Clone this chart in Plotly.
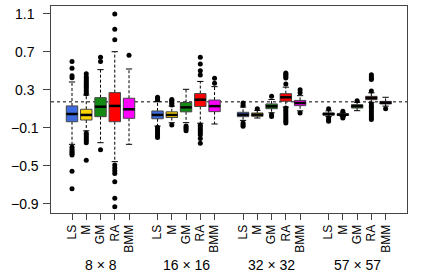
import plotly.graph_objects as go

# ---------------- data ----------------
methods = ["LS", "M", "GM", "RA", "BMM"]
groups = ["8 × 8", "16 × 16", "32 × 32", "57 × 57"]
colors = ["#3f6be0", "#ffd700", "#138a13", "#ff0000", "#ff00ff"]
ref_value = 0.175
y_ticks = [-0.9, -0.5, -0.1, 0.3, 0.7, 1.1]
y_ticktext = ["\u22120.9", "\u22120.5", "\u22120.1", "0.3", "0.7", "1.1"]

# per group: lists over methods LS, M, GM, RA, BMM
q1_8 = [-0.034, -0.016, 0.019, -0.034, 0.002]
med_8 = [0.047, 0.037, 0.124, 0.132, 0.097]
q3_8 = [0.132, 0.097, 0.219, 0.272, 0.213]
lo_8 = [-0.272, -0.13, -0.255, -0.454, -0.272]
hi_8 = [0.384, 0.247, 0.514, 0.703, 0.521]
out_8 = [
    [0.43, 0.45, 0.53, 0.60, -0.30, -0.32, -0.34, -0.355, -0.37, -0.385, -0.556, -0.74],
    [0.26, 0.28, 0.30, 0.32, 0.34, 0.36, 0.38, 0.40, 0.42, 0.44, 0.47,
     -0.156, -0.175, -0.195, -0.215, -0.235, -0.255, -0.44],
    [0.60, 0.645, -0.33],
    [0.83, 0.94, 1.10, -0.49, -0.52, -0.55, -0.58, -0.665, -0.84, -0.93],
    [0.665],
]

q1_16 = [-0.003, 0.01, 0.07, 0.126, 0.072]
med_16 = [0.037, 0.037, 0.117, 0.198, 0.13]
q3_16 = [0.079, 0.07, 0.168, 0.262, 0.194]
lo_16 = [-0.08, -0.045, -0.044, -0.05, -0.058]
hi_16 = [0.18, 0.13, 0.307, 0.39, 0.335]
out_16 = [
    [0.195, 0.21, 0.223, -0.095, -0.11, -0.13, -0.15, -0.17, -0.185, -0.2],
    [0.142, 0.16, 0.175, 0.19, 0.2, -0.068],
    [-0.079, -0.095, -0.11, -0.128],
    [0.458, 0.503, 0.574, 0.644, -0.07, -0.09, -0.11, -0.13, -0.15, -0.17, -0.21, -0.26],
    [0.37, 0.423],
]

q1_32 = [0.019, 0.023, 0.103, 0.181, 0.135]
med_32 = [0.04, 0.04, 0.128, 0.223, 0.163]
q3_32 = [0.065, 0.058, 0.153, 0.261, 0.19]
lo_32 = [-0.02, 0.005, 0.06, 0.12, 0.08]
hi_32 = [0.12, 0.085, 0.2, 0.33, 0.24]
out_32 = [
    [0.139, 0.163, -0.047, -0.065, -0.082],
    [0.103],
    [0.233, 0.04, 0.02],
    [0.363, 0.426, 0.44, 0.455, 0.468, 0.479,
     0.11, 0.09, 0.07, 0.05, 0.03, 0.01, -0.01, -0.03, -0.047],
    [0.27, 0.303, 0.058],
]

q1_57 = [0.035, 0.032, 0.11, 0.198, 0.153]
med_57 = [0.047, 0.04, 0.13, 0.216, 0.166]
q3_57 = [0.058, 0.05, 0.145, 0.233, 0.18]
lo_57 = [0.02, 0.02, 0.082, 0.17, 0.13]
hi_57 = [0.08, 0.06, 0.17, 0.27, 0.223]
out_57 = [
    [0.103, 0.005, -0.015, -0.03],
    [0.075, 0.005, 0.015],
    [0.187],
    [0.29, 0.41, 0.425, 0.44, 0.46,
     0.153, 0.13, 0.11, 0.09, 0.07, 0.05, 0.03, 0.01, -0.01],
    [0.103],
]

all_q1 = [q1_8, q1_16, q1_32, q1_57]
all_med = [med_8, med_16, med_32, med_57]
all_q3 = [q3_8, q3_16, q3_32, q3_57]
all_lo = [lo_8, lo_16, lo_32, lo_57]
all_hi = [hi_8, hi_16, hi_32, hi_57]
all_out = [out_8, out_16, out_32, out_57]

# ---------------- figure ----------------
W = 0.4      # half box width
C = 0.22     # half cap width
fig = go.Figure()

tickpos, ticktxt = [], []
wx, wy, cx, cy, ox, oy = [], [], [], [], [], []
for g in range(len(groups)):
    for m in range(len(methods)):
        x = 6 * g + m + 1
        tickpos.append(x)
        ticktxt.append(methods[m])
        q1, md, q3 = all_q1[g][m], all_med[g][m], all_q3[g][m]
        lo, hi = all_lo[g][m], all_hi[g][m]
        wx += [x, x, None, x, x, None]
        wy += [q3, hi, None, q1, lo, None]
        cx += [x - C, x + C, None, x - C, x + C, None]
        cy += [hi, hi, None, lo, lo, None]
        for v in all_out[g][m]:
            ox.append(x)
            oy.append(v)

# whiskers (dashed)
fig.add_trace(go.Scatter(x=wx, y=wy, mode="lines", line=dict(color="black", width=1, dash="3px,2px"),
                         hoverinfo="skip", showlegend=False))
fig.add_trace(go.Scatter(x=cx, y=cy, mode="lines", line=dict(color="black", width=1),
                         hoverinfo="skip", showlegend=False))

# boxes and medians
for g in range(len(groups)):
    for m in range(len(methods)):
        x = 6 * g + m + 1
        q1, md, q3 = all_q1[g][m], all_med[g][m], all_q3[g][m]
        fig.add_trace(go.Scatter(
            x=[x - W, x + W, x + W, x - W, x - W], y=[q1, q1, q3, q3, q1],
            mode="lines", fill="toself", fillcolor=colors[m],
            line=dict(color="#444444", width=1), hoverinfo="skip", showlegend=False))
        fig.add_trace(go.Scatter(
            x=[x - W, x + W], y=[md, md], mode="lines",
            line=dict(color="black", width=2.5), hoverinfo="skip", showlegend=False))

# outliers
fig.add_trace(go.Scatter(x=ox, y=oy, mode="markers", marker=dict(color="black", size=5),
                         hoverinfo="skip", showlegend=False))

fig.add_hline(y=ref_value, line=dict(color="black", width=1, dash="3px,3px"), layer="below")

# y tick labels (centered, as in the reference)
for v, t in zip(y_ticks, y_ticktext):
    fig.add_annotation(x=-0.073, xref="paper", y=v, yref="y", text=t, showarrow=False,
                       xanchor="center", yanchor="middle",
                       font=dict(size=14, color="black", family="Liberation Sans"))

# group labels
for g, lab in enumerate(groups):
    fig.add_annotation(x=6 * g + 3, xref="x", y=-0.251, yref="paper", text=lab, showarrow=False,
                       xanchor="center", yanchor="middle",
                       font=dict(size=14, color="black", family="Liberation Sans"))

fig.update_layout(
    width=422, height=273,
    margin=dict(l=51, r=15, t=6, b=60),
    paper_bgcolor="white", plot_bgcolor="white",
    font=dict(family="Liberation Sans", color="black"),
    xaxis=dict(range=[-0.474, 24.5], tickvals=tickpos, ticktext=ticktxt, tickangle=-90,
               ticks="outside", ticklen=6, tickcolor="#444", tickfont=dict(size=12),
               showline=True, linecolor="#444", linewidth=1, mirror=True,
               showgrid=False, zeroline=False, fixedrange=True),
    yaxis=dict(range=[-0.995, 1.184], tickvals=y_ticks, showticklabels=False,
               ticks="outside", ticklen=7, tickcolor="#444",
               showline=True, linecolor="#444", linewidth=1, mirror=True,
               showgrid=False, zeroline=False, fixedrange=True),
)

fig.write_html("out.html", config={"displayModeBar": False},
               post_script="document.body.style.margin='0';document.body.style.overflow='hidden';")
